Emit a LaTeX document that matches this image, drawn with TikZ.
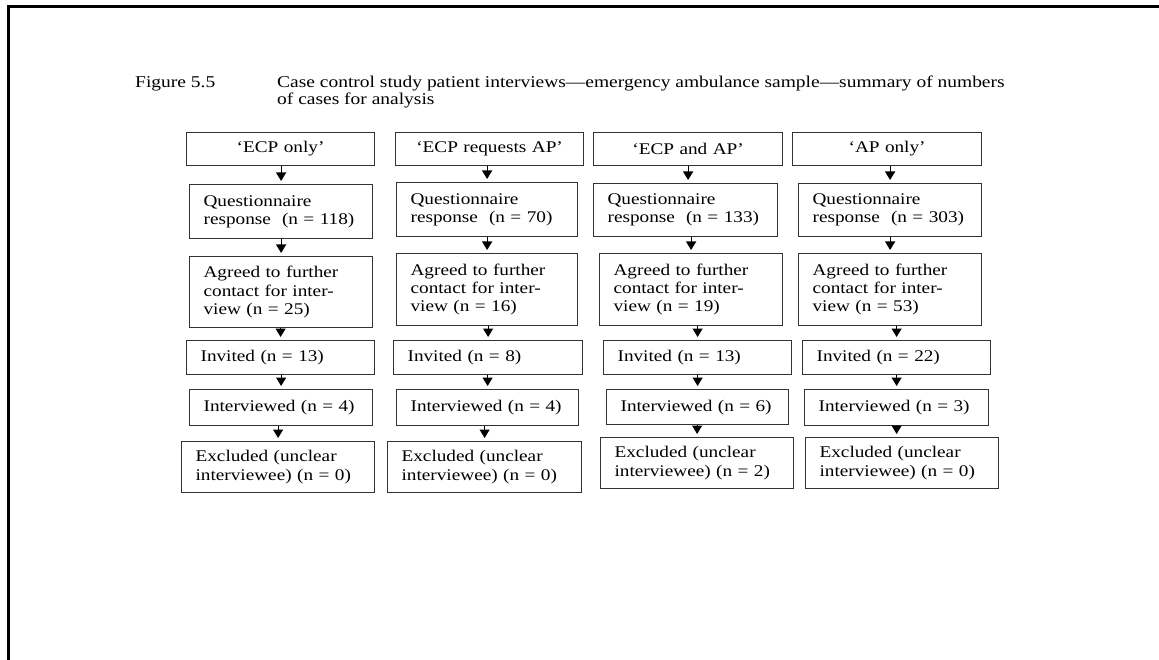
\documentclass[tikz,border=0pt]{standalone}
\usepackage{fontspec}
\setmainfont{Liberation Serif}[FakeStretch=1.18]
\usetikzlibrary{arrows.meta}

% box: name, left, right, top, bottom, text (coordinates in pt, y downwards)
\newcommand\fbx[7][]{%
  \pgfmathsetmacro\bxw{#4-#3}%
  \pgfmathsetmacro\bxh{#6-#5}%
  \pgfmathsetmacro\bxt{#4-#3-28}%
  \node[box,minimum width=\bxw pt,minimum height=\bxh pt,text width=\bxt pt,#1] (#2) at (#3,#5) {#7};}
% arrow from the upper box straight down onto the lower box
\newcommand\flink[2]{\draw[flow] (#1.south -| #2.north) -- (#2.north);}
\newcommand\flinkup[2]{\draw[flow] (#1.south) -- (#1.south |- #2.north);}

\begin{document}
\begin{tikzpicture}[x=1pt,y=-1pt,
  txt/.style={font=\fontsize{16.3}{18.2}\selectfont, text=black},
  box/.style={txt, draw=black!80, line width=1.2pt, anchor=north west,
    inner xsep=14pt, inner ysep=0pt, align=left},
  head/.style={align=center},
  flow/.style={draw=black, line width=1.2pt, shorten >=3pt,
    -{Triangle[width=10pt,length=8.5pt]}},
  caption/.style={txt, font=\fontsize{16.5}{17}\selectfont, anchor=base west, inner sep=0pt}]

\useasboundingbox (0,0) rectangle (1159,660);

% frame lines along the top and left edges
\draw[line width=2.5pt] (8.5,660) -- (8.5,6.5) -- (1159,6.5);

% caption
\node[caption] (fig) at (135,88) {Figure 5.5};
\node[caption] (cap1) at (277,88) {Case control study patient interviews—emergency ambulance sample—summary of numbers};
\node[caption] (cap2) at (277,105) {of cases for analysis};

% column 1
\fbx[head]{t1}{186}{374}{132}{165}{‘ECP only’}
\fbx{q1}{189}{372}{184}{238}{Questionnaire\\response\hspace{0.35em} (n = 118)}
\fbx{a1}{189}{372}{256}{327}{Agreed to further\\contact for inter-\\view (n = 25)}
\fbx{i1}{186}{374}{340}{374}{Invited (n = 13)}
\fbx{v1}{189}{372}{389}{425}{Interviewed (n = 4)}
\fbx{e1}{181}{374}{441}{492}{Excluded (unclear\\interviewee) (n = 0)}

% column 2
\fbx[head]{t2}{395}{583}{132}{165}{‘ECP requests AP’}
\fbx{q2}{396}{577}{182}{236}{Questionnaire\\response\hspace{0.35em} (n = 70)}
\fbx{a2}{396}{577}{253}{325}{Agreed to further\\contact for inter-\\view (n = 16)}
\fbx{i2}{393}{582}{340}{374}{Invited (n = 8)}
\fbx{v2}{396}{578}{389}{425}{Interviewed (n = 4)}
\fbx{e2}{387}{581}{441}{492}{Excluded (unclear\\interviewee) (n = 0)}

% column 3
\fbx[head]{t3}{593}{782}{132}{165}{‘ECP and AP’}
\fbx{q3}{593}{777}{183}{236}{Questionnaire\\response\hspace{0.35em} (n = 133)}
\fbx{a3}{599}{782}{253}{325}{Agreed to further\\contact for inter-\\view (n = 19)}
\fbx{i3}{603}{791}{340}{374}{Invited (n = 13)}
\fbx{v3}{606}{788}{389}{424}{Interviewed (n = 6)}
\fbx{e3}{600}{793}{437}{488}{Excluded (unclear\\interviewee) (n = 2)}

% column 4
\fbx[head]{t4}{792}{981}{132}{165}{‘AP only’}
\fbx{q4}{798}{981}{183}{236}{Questionnaire\\response\hspace{0.35em} (n = 303)}
\fbx{a4}{798}{981}{253}{325}{Agreed to further\\contact for inter-\\view (n = 53)}
\fbx{i4}{802}{990}{340}{374}{Invited (n = 22)}
\fbx{v4}{804}{988}{389}{425}{Interviewed (n = 3)}
\fbx{e4}{805}{998}{437}{488}{Excluded (unclear\\interviewee) (n = 0)}

% connectors
\flink{t1}{q1} \flink{q1}{a1} \flink{a1}{i1} \flink{i1}{v1} \flink{v1}{e1}
\flink{t2}{q2} \flink{q2}{a2} \flink{a2}{i2} \flink{i2}{v2} \flink{v2}{e2}
\flinkup{t3}{q3} \flink{q3}{a3} \flink{a3}{i3} \flink{i3}{v3} \flink{v3}{e3}
\flink{t4}{q4} \flink{q4}{a4} \flink{a4}{i4} \flink{i4}{v4} \flinkup{v4}{e4}
\end{tikzpicture}
\end{document}
